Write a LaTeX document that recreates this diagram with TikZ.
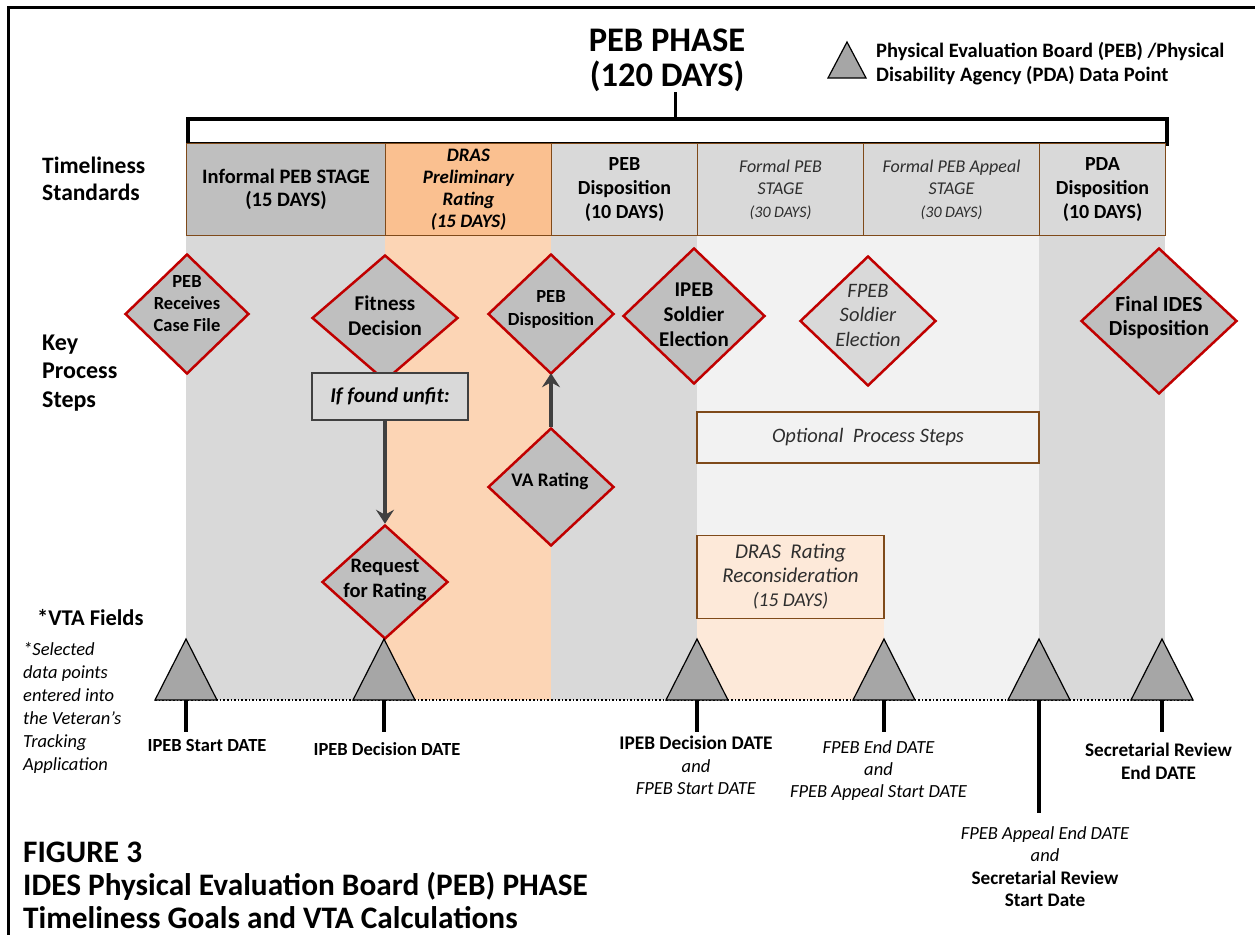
\documentclass[tikz,border=0pt]{standalone}
\usepackage{fontspec}
\setmainfont{Carlito}
\usetikzlibrary{shapes.geometric,arrows.meta,calc}
\definecolor{dgray}{HTML}{BFBFBF}
\definecolor{lgray}{HTML}{D9D9D9}
\definecolor{vlgray}{HTML}{F2F2F2}
\definecolor{orhead}{HTML}{FAC090}
\definecolor{orbody}{HTML}{FCD5B5}
\definecolor{orlight}{HTML}{FDE9D9}
\definecolor{brownb}{HTML}{7F4A1A}
\definecolor{redb}{HTML}{C00000}
\definecolor{trig}{HTML}{A6A6A6}
\definecolor{arrowc}{HTML}{404040}
\definecolor{txtg}{HTML}{2E2E2E}
\newcommand{\fsz}[2]{\fontsize{#1}{#2}\selectfont}
\tikzset{
  hdr/.style={draw=brownb, line width=1, minimum height=92, anchor=north west, align=center, inner sep=0},
  dia/.style={diamond, draw=redb, line width=2.5, fill=dgray, inner sep=0},
  diatext/.style={align=center, inner sep=0},
  tri/.style={draw=black, line width=1.2, fill=trig},
  stem/.style={line width=3.5},
  arr/.style={line width=4, draw=arrowc, -{Stealth[length=14pt,width=18pt,inset=5pt]}},
  obox/.style={draw=brownb, line width=1.2, inner sep=0, align=center},
  lbl/.style={align=center, inner sep=0, font=\fsz{18.5}{22.3}},
  side/.style={align=left, anchor=west, inner sep=0},
}
\begin{document}
\begin{tikzpicture}[x=1pt,y=-1pt]
\useasboundingbox (0,0) rectangle (1255,934);
% frame
\draw[line width=3] (8.5,940) -- (8.5,7.5) -- (1260,7.5);
% body backgrounds
\fill[lgray] (186,235) rectangle (385,700);
\fill[orbody] (385,235) rectangle (551,700);
\fill[lgray] (551,235) rectangle (697,700);
\fill[vlgray] (697,235) rectangle (1039,700);
\fill[lgray] (1039,235) rectangle (1165,700);
\fill[orlight] (697,618) rectangle (884,700);
% title and bracket
\node[font=\bfseries\fsz{34.5}{35}, align=center, inner sep=0] (title) at (667,60) {PEB PHASE\\(120 DAYS)};
\node[draw, line width=3.5, fill=white, minimum width=979, minimum height=25, anchor=north west, inner sep=0] (bracket) at (186,117) {};
\coordinate (tl) at (675,92);
\draw[line width=3] (tl) -- (tl |- bracket.north);
% legend
\draw[tri] (828,78) -- (847,42) -- (866,78) -- cycle;
\node[side, font=\bfseries\fsz{20.5}{24}] (legend) at (876,64) {Physical Evaluation Board (PEB) /Physical\\Disability Agency (PDA) Data Point};
% headers
\node[hdr, fill=dgray, minimum width=199, font=\bfseries\fsz{20.5}{23}] (h1) at (186,143) {Informal PEB STAGE\\(15 DAYS)};
\node[hdr, fill=orhead, minimum width=166, font=\bfseries\itshape\fsz{19}{22}] (h2) at (385,143) {DRAS\\Preliminary\\Rating\\(15 DAYS)};
\node[hdr, fill=lgray, minimum width=146, font=\bfseries\fsz{20}{24}] (h3) at (551,143) {PEB\\Disposition\\(10 DAYS)};
\node[hdr, fill=lgray, minimum width=166, font=\itshape\fsz{18}{22.5}, text=txtg] (h4) at (697,143) {Formal PEB\\STAGE\\{\fsz{16}{22.5}(30 DAYS)}};
\node[hdr, fill=lgray, minimum width=176, font=\itshape\fsz{18}{22.5}, text=txtg] (h5) at (863,143) {Formal PEB Appeal\\STAGE\\{\fsz{16}{22.5}(30 DAYS)}};
\node[hdr, fill=lgray, minimum width=126, font=\bfseries\fsz{20}{24}] (h6) at (1039,143) {PDA\\Disposition\\(10 DAYS)};
% side labels
\node[side, font=\bfseries\fsz{23.5}{27.5}] (ts) at (42,179) {Timeliness\\Standards};
\node[side, font=\bfseries\fsz{24}{28.5}] (kps) at (42,373) {Key\\Process\\Steps};
\node[side, font=\bfseries\fsz{22.5}{26}] (vta) at (37,618) {*VTA Fields};
\node[side, font=\itshape\fsz{18.5}{23}] (note) at (23,708) {*Selected\\data points\\entered into\\the Veteran’s\\Tracking\\Application};
\node[side, font=\bfseries\fsz{31.3}{33}] (fig) at (23,885) {FIGURE 3\\IDES Physical Evaluation Board (PEB) PHASE\\Timeliness Goals and VTA Calculations};
% optional boxes
\node[obox, fill=vlgray, minimum width=342, minimum height=51, font=\itshape\fsz{20.5}{22}, text=txtg] (opt) at (868,437.5) {Optional\ \ Process Steps};
\node[obox, fill=orlight, minimum width=187, minimum height=83, font=\itshape\fsz{21}{24}, text=txtg] (dras) at (790.5,577) {DRAS\ \ Rating\\Reconsideration\\{\fsz{19.5}{24}(15 DAYS)}};
% diamonds
\node[dia, minimum width=124, minimum height=120] (d1) at (187,314) {};
\node[diatext, font=\bfseries\fsz{18.5}{22}] at (187,304) {PEB\\Receives\\Case File};
\node[dia, minimum width=146, minimum height=126] (d2) at (385,318) {};
\node[diatext, font=\bfseries\fsz{21}{25}] at (385,316) {Fitness\\Decision};
\node[dia, minimum width=126, minimum height=120] (d3) at (551,314) {};
\node[diatext, font=\bfseries\fsz{18.5}{23}] at (551,309) {PEB\\Disposition};
\node[dia, minimum width=126, minimum height=118] (d4) at (551,487) {};
\node[diatext, font=\bfseries\fsz{19.2}{23}] at (550,481) {VA Rating};
\node[dia, minimum width=126, minimum height=114] (d5) at (385,582) {};
\node[diatext, font=\bfseries\fsz{20.5}{25}] at (385,580.5) {Request\\for Rating};
\node[dia, minimum width=142, minimum height=136] (d6) at (694,316) {};
\node[diatext, font=\bfseries\fsz{21}{25}] at (694,315) {IPEB\\Soldier\\Election};
\node[dia, fill=lgray, minimum width=136, minimum height=130] (d7) at (868,321) {};
\node[diatext, font=\itshape\fsz{20.5}{24.5}, text=txtg] at (868,315) {FPEB\\Soldier\\Election};
\node[dia, minimum width=156, minimum height=146] (d8) at (1159,321) {};
\node[diatext, font=\bfseries\fsz{21.5}{24}] at (1159,318) {Final IDES\\Disposition};
% if found unfit
\node[draw=arrowc, line width=1.5, fill=lgray, minimum width=156, minimum height=47, inner sep=0, font=\bfseries\itshape\fsz{21}{22}] (unfit) at (390,396.5) {If found unfit:};
\draw[arr] (unfit.south -| d5.north) -- (d5.north);
\draw[arr] (d4.north) -- ([yshift=2]d3.south);
% timeline
\draw[dotted, line width=1.6] (155,700) -- (1195,700);
\foreach \n/\x in {1/186,2/384,3/697,4/884,5/1039,6/1162}{
  \coordinate (t\n) at (\x,700);
  \draw[tri] ($(t\n)+(-31,0)$) -- ($(t\n)+(0,-61)$) -- ($(t\n)+(31,0)$) -- cycle;
}
\coordinate (s1) at (186,732);
\coordinate (s2) at (384,732);
\coordinate (s3) at (697,732);
\coordinate (s4) at (884,732);
\coordinate (s5) at (1039,813);
\coordinate (s6) at (1162,732);
\foreach \n in {1,...,6}{\draw[stem] (t\n) -- (s\n);}
% labels
\node[lbl, font=\bfseries\fsz{18.5}{22}] (l1) at (207,745) {IPEB Start DATE};
\node[lbl, font=\bfseries\fsz{18.5}{22}] (l2) at (387,749) {IPEB Decision DATE};
\node[lbl] (l3) at (696,765.5) {{\bfseries\fsz{19.3}{22.3}IPEB Decision DATE}\\\textit{and}\\\textit{FPEB Start DATE}};
\node[lbl, font=\itshape\fsz{18.5}{22}] (l4) at (878.5,771) {FPEB End DATE\\and\\FPEB Appeal Start DATE};
\node[lbl] (l5) at (1045,866.5) {\textit{FPEB Appeal End DATE}\\\textit{and}\\{\bfseries\fsz{19.2}{22.3}Secretarial Review}\\{\bfseries\fsz{19.2}{22.3}Start Date}};
\node[lbl, font=\bfseries\fsz{19.2}{23}] (l6) at (1158.5,761.5) {Secretarial Review\\End DATE};
\end{tikzpicture}
\end{document}
